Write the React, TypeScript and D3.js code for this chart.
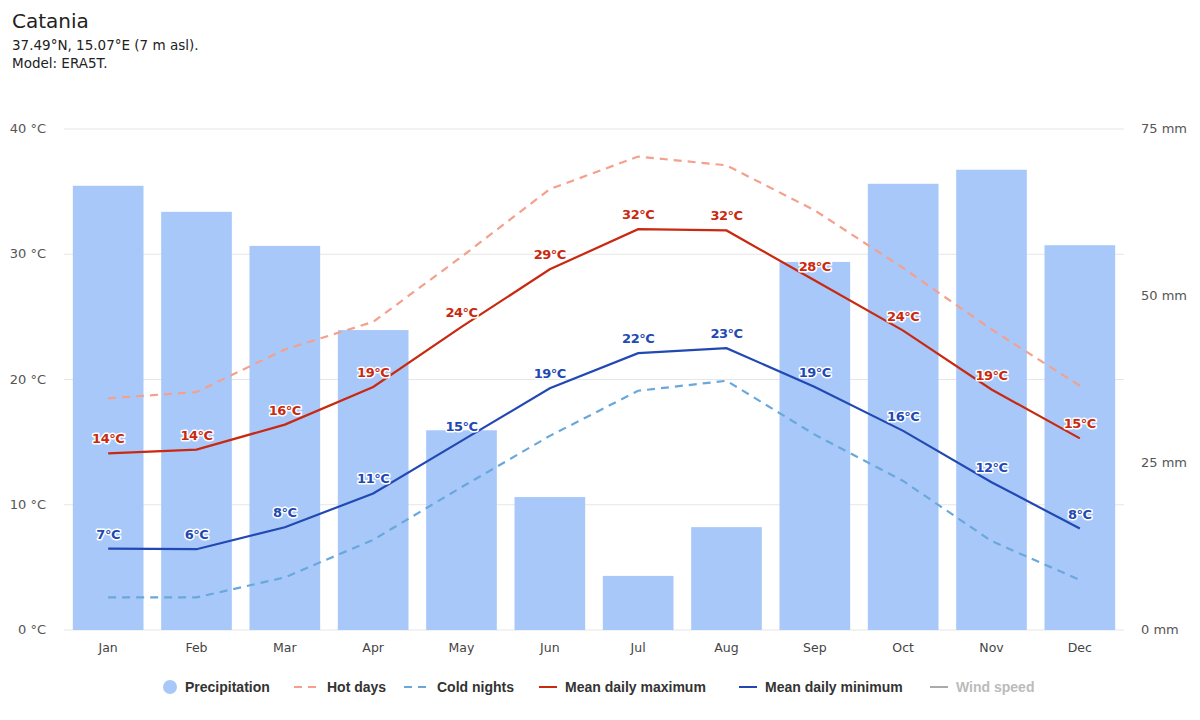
import * as d3 from "d3";

const months = ["Jan", "Feb", "Mar", "Apr", "May", "Jun", "Jul", "Aug", "Sep", "Oct", "Nov", "Dec"];
const precipitation = [66.5, 62.6, 57.5, 44.9, 29.9, 19.9, 8.1, 15.4, 55.1, 66.8, 68.9, 57.6];
const meanMax = [14.1, 14.4, 16.4, 19.4, 24.2, 28.8, 32.0, 31.9, 27.9, 23.9, 19.2, 15.3];
const meanMin = [6.5, 6.45, 8.2, 10.9, 15.1, 19.3, 22.1, 22.5, 19.4, 15.9, 11.8, 8.1];
const hotDays = [18.5, 19.0, 22.4, 24.6, 29.8, 35.2, 37.8, 37.1, 33.5, 28.9, 24.0, 19.5];
const coldNights = [2.6, 2.6, 4.2, 7.2, 11.4, 15.5, 19.1, 19.9, 15.6, 11.9, 7.1, 4.0];
const tempTicks = [0, 10, 20, 30, 40];
const precipTicks = [0, 25, 50, 75];

const W = 1200;
const H = 720;
const left = 64;
const right = 1124;
const top = 129;
const bottom = 630;
const font = "'DejaVu Sans', 'Lucida Grande', sans-serif";
const legendFont = "'Liberation Sans', Arial, sans-serif";

const colors = {
  bar: "#a8c8fa",
  max: "#c8290f",
  min: "#2249b3",
  hot: "#f4a08c",
  cold: "#6aa8dc",
  wind: "#aaaaaa",
};

export default function App() {
  const x = d3.scaleBand<string>().domain(months).range([left, right]).paddingInner(0.2).paddingOuter(0.1);
  const xc = (i: number) => (x(months[i]) ?? 0) + x.bandwidth() / 2;
  const yT = d3.scaleLinear().domain([0, 40]).range([bottom, top]);
  const yP = d3.scaleLinear().domain([0, 75]).range([bottom, top]);
  const line = d3
    .line<number>()
    .x((_, i) => xc(i))
    .y((d) => yT(d));

  const series = [
    { data: hotDays, color: colors.hot, dash: "8,6" },
    { data: coldNights, color: colors.cold, dash: "8,6" },
    { data: meanMax, color: colors.max, dash: undefined },
    { data: meanMin, color: colors.min, dash: undefined },
  ];

  const labelled = [
    { data: meanMax, color: colors.max },
    { data: meanMin, color: colors.min },
  ];

  const legend = [
    { name: "Precipitation", x: 170, kind: "circle", color: colors.bar },
    { name: "Hot days", x: 296, kind: "dash", color: colors.hot },
    { name: "Cold nights", x: 406, kind: "dash", color: colors.cold },
    { name: "Mean daily maximum", x: 539, kind: "line", color: colors.max },
    { name: "Mean daily minimum", x: 739, kind: "line", color: colors.min },
    { name: "Wind speed", x: 930, kind: "line", color: colors.wind },
  ];

  return (
    <svg width={W} height={H} style={{ position: "absolute", left: 0, top: 0, fontFamily: font }}>
      <rect width={W} height={H} fill="#fff" />
      <text x={12} y={28} fontSize={20} fill="#222">Catania</text>
      <text x={12} y={50} fontSize={13.5} fill="#222">37.49°N, 15.07°E (7 m asl).</text>
      <text x={12} y={68} fontSize={13.5} fill="#222">Model: ERA5T.</text>

      {tempTicks.map((t) => (
        <g key={t}>
          <line x1={left} x2={right} y1={yT(t)} y2={yT(t)} stroke="#e6e6e6" strokeWidth={1} />
          <text x={46} y={yT(t) + 4} fontSize={13} fill="#555" textAnchor="end">
            {t} °C
          </text>
        </g>
      ))}
      {precipTicks.map((t) => (
        <text key={t} x={1141} y={yP(t) + 4} fontSize={13} fill="#555">
          {t} mm
        </text>
      ))}

      {precipitation.map((v, i) => (
        <rect key={i} x={x(months[i])} y={yP(v)} width={x.bandwidth()} height={bottom - yP(v)} fill={colors.bar} />
      ))}

      {months.map((m, i) => (
        <text key={m} x={xc(i)} y={652} fontSize={12.5} fill="#444" textAnchor="middle">
          {m}
        </text>
      ))}

      {series.map((s, k) => (
        <path
          key={k}
          d={line(s.data) ?? ""}
          fill="none"
          stroke={s.color}
          strokeWidth={2.2}
          strokeDasharray={s.dash}
        />
      ))}

      {labelled.map((s, k) =>
        s.data.map((v, i) => (
          <text
            key={`${k}-${i}`}
            x={xc(i)}
            y={yT(v) - 10}
            fontSize={13}
            fontWeight="bold"
            textAnchor="middle"
            fill={s.color}
            stroke="#fff"
            strokeWidth={3}
            strokeLinejoin="round"
            style={{ paintOrder: "stroke" }}
            letterSpacing={-0.5}
          >
            {Math.round(v)}°C
          </text>
        ))
      )}

      {legend.map((l) => (
        <g key={l.name}>
          {l.kind === "circle" ? (
            <circle cx={l.x} cy={687} r={7} fill={l.color} />
          ) : l.kind === "dash" ? (
            <line x1={l.x - 2} x2={l.x + 22} y1={687} y2={687} stroke={l.color} strokeWidth={2} strokeDasharray="8,6" />
          ) : (
            <line x1={l.x} x2={l.x + 18} y1={687} y2={687} stroke={l.color} strokeWidth={2} />
          )}
          <text
            x={l.kind === "circle" ? l.x + 15 : l.kind === "dash" ? l.x + 31 : l.x + 26}
            y={692}
            fontSize={14}
            fontWeight="bold"
            fontFamily={legendFont}
            fill={l.name === "Wind speed" ? "#bbb" : "#333"}
          >
            {l.name}
          </text>
        </g>
      ))}
    </svg>
  );
}
